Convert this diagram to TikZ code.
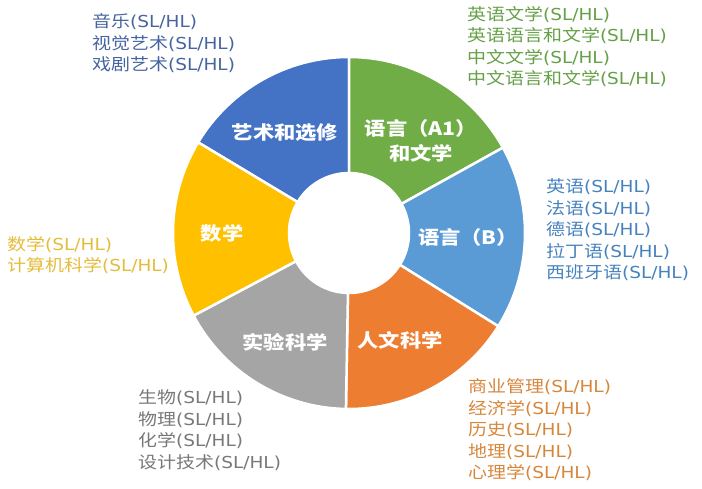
\documentclass[tikz,border=0pt]{standalone}
\usepackage{fontspec}
\setmainfont{Noto Sans CJK SC}[FakeStretch=1.15]
\newfontfamily\latinfont{DejaVu Sans}[FakeStretch=1.12]
\usetikzlibrary{calc}
\definecolor{artblue}{RGB}{68,114,196}
\definecolor{langgreen}{RGB}{112,173,71}
\definecolor{langblue}{RGB}{91,155,213}
\definecolor{humorange}{RGB}{237,125,49}
\definecolor{labgray}{RGB}{165,165,165}
\definecolor{mathyellow}{RGB}{255,192,0}
\definecolor{arttext}{RGB}{70,100,160}
\definecolor{littext}{RGB}{100,160,70}
\definecolor{langtext}{RGB}{70,130,190}
\definecolor{humtext}{RGB}{215,135,60}
\definecolor{labtext}{RGB}{120,120,120}
\definecolor{mathtext}{RGB}{228,188,60}
\newcommand\slhl{{\latinfont(SL/HL)}}

\begin{document}
\begin{tikzpicture}[x=1pt,y=1pt,
	slice/.style={draw=white,line width=2.5pt},
	group/.style={text=white,font=\fontsize{18.5}{25}\selectfont\bfseries,align=center},
	courses/.style={anchor=west,inner sep=0pt,align=left,font=\fontsize{16.5}{21.5}\selectfont}]
	\useasboundingbox (0,0) rectangle (702,489);
	\coordinate (O) at (349,256);
	
	\foreach \a/\b/\c in {90/149/artblue, 29/90/langgreen, -32/29/langblue, -91/-32/humorange, -152/-91/labgray, 149/208/mathyellow}
		\filldraw[slice,fill=\c] ($(O)+(\a:176)$) arc (\a:\b:176) -- ($(O)+(\b:60)$) arc (\b:\a:60) -- cycle;
	
	\node[group] (art) at (285,356) {艺术和选修};
	\node[group] (lit) at (421,348.5) {语言（A1）\\和文学};
	\node[group] (lang) at (468,252) {语言（B）};
	\node[group] (math) at (222,256) {数学};
	\node[group] (lab) at (285,147) {实验科学};
	\node[group] (hum) at (400,149) {人文科学};
	
	\node[courses,text=arttext] (artlist) at (92,445.5) {音乐\slhl\\视觉艺术\slhl\\戏剧艺术\slhl};
	\node[courses,text=littext] (litlist) at (467,442.5) {英语文学\slhl\\英语语言和文学\slhl\\中文文学\slhl\\中文语言和文学\slhl};
	\node[courses,text=langtext] (langlist) at (546,259) {英语\slhl\\法语\slhl\\德语\slhl\\拉丁语\slhl\\西班牙语\slhl};
	\node[courses,text=humtext] (humlist) at (468,59) {商业管理\slhl\\经济学\slhl\\历史\slhl\\地理\slhl\\心理学\slhl};
	\node[courses,text=labtext] (lablist) at (138,59) {生物\slhl\\物理\slhl\\化学\slhl\\设计技术\slhl};
	\node[courses,text=mathtext] (mathlist) at (7,234) {数学\slhl\\计算机科学\slhl};
\end{tikzpicture}
\end{document}
